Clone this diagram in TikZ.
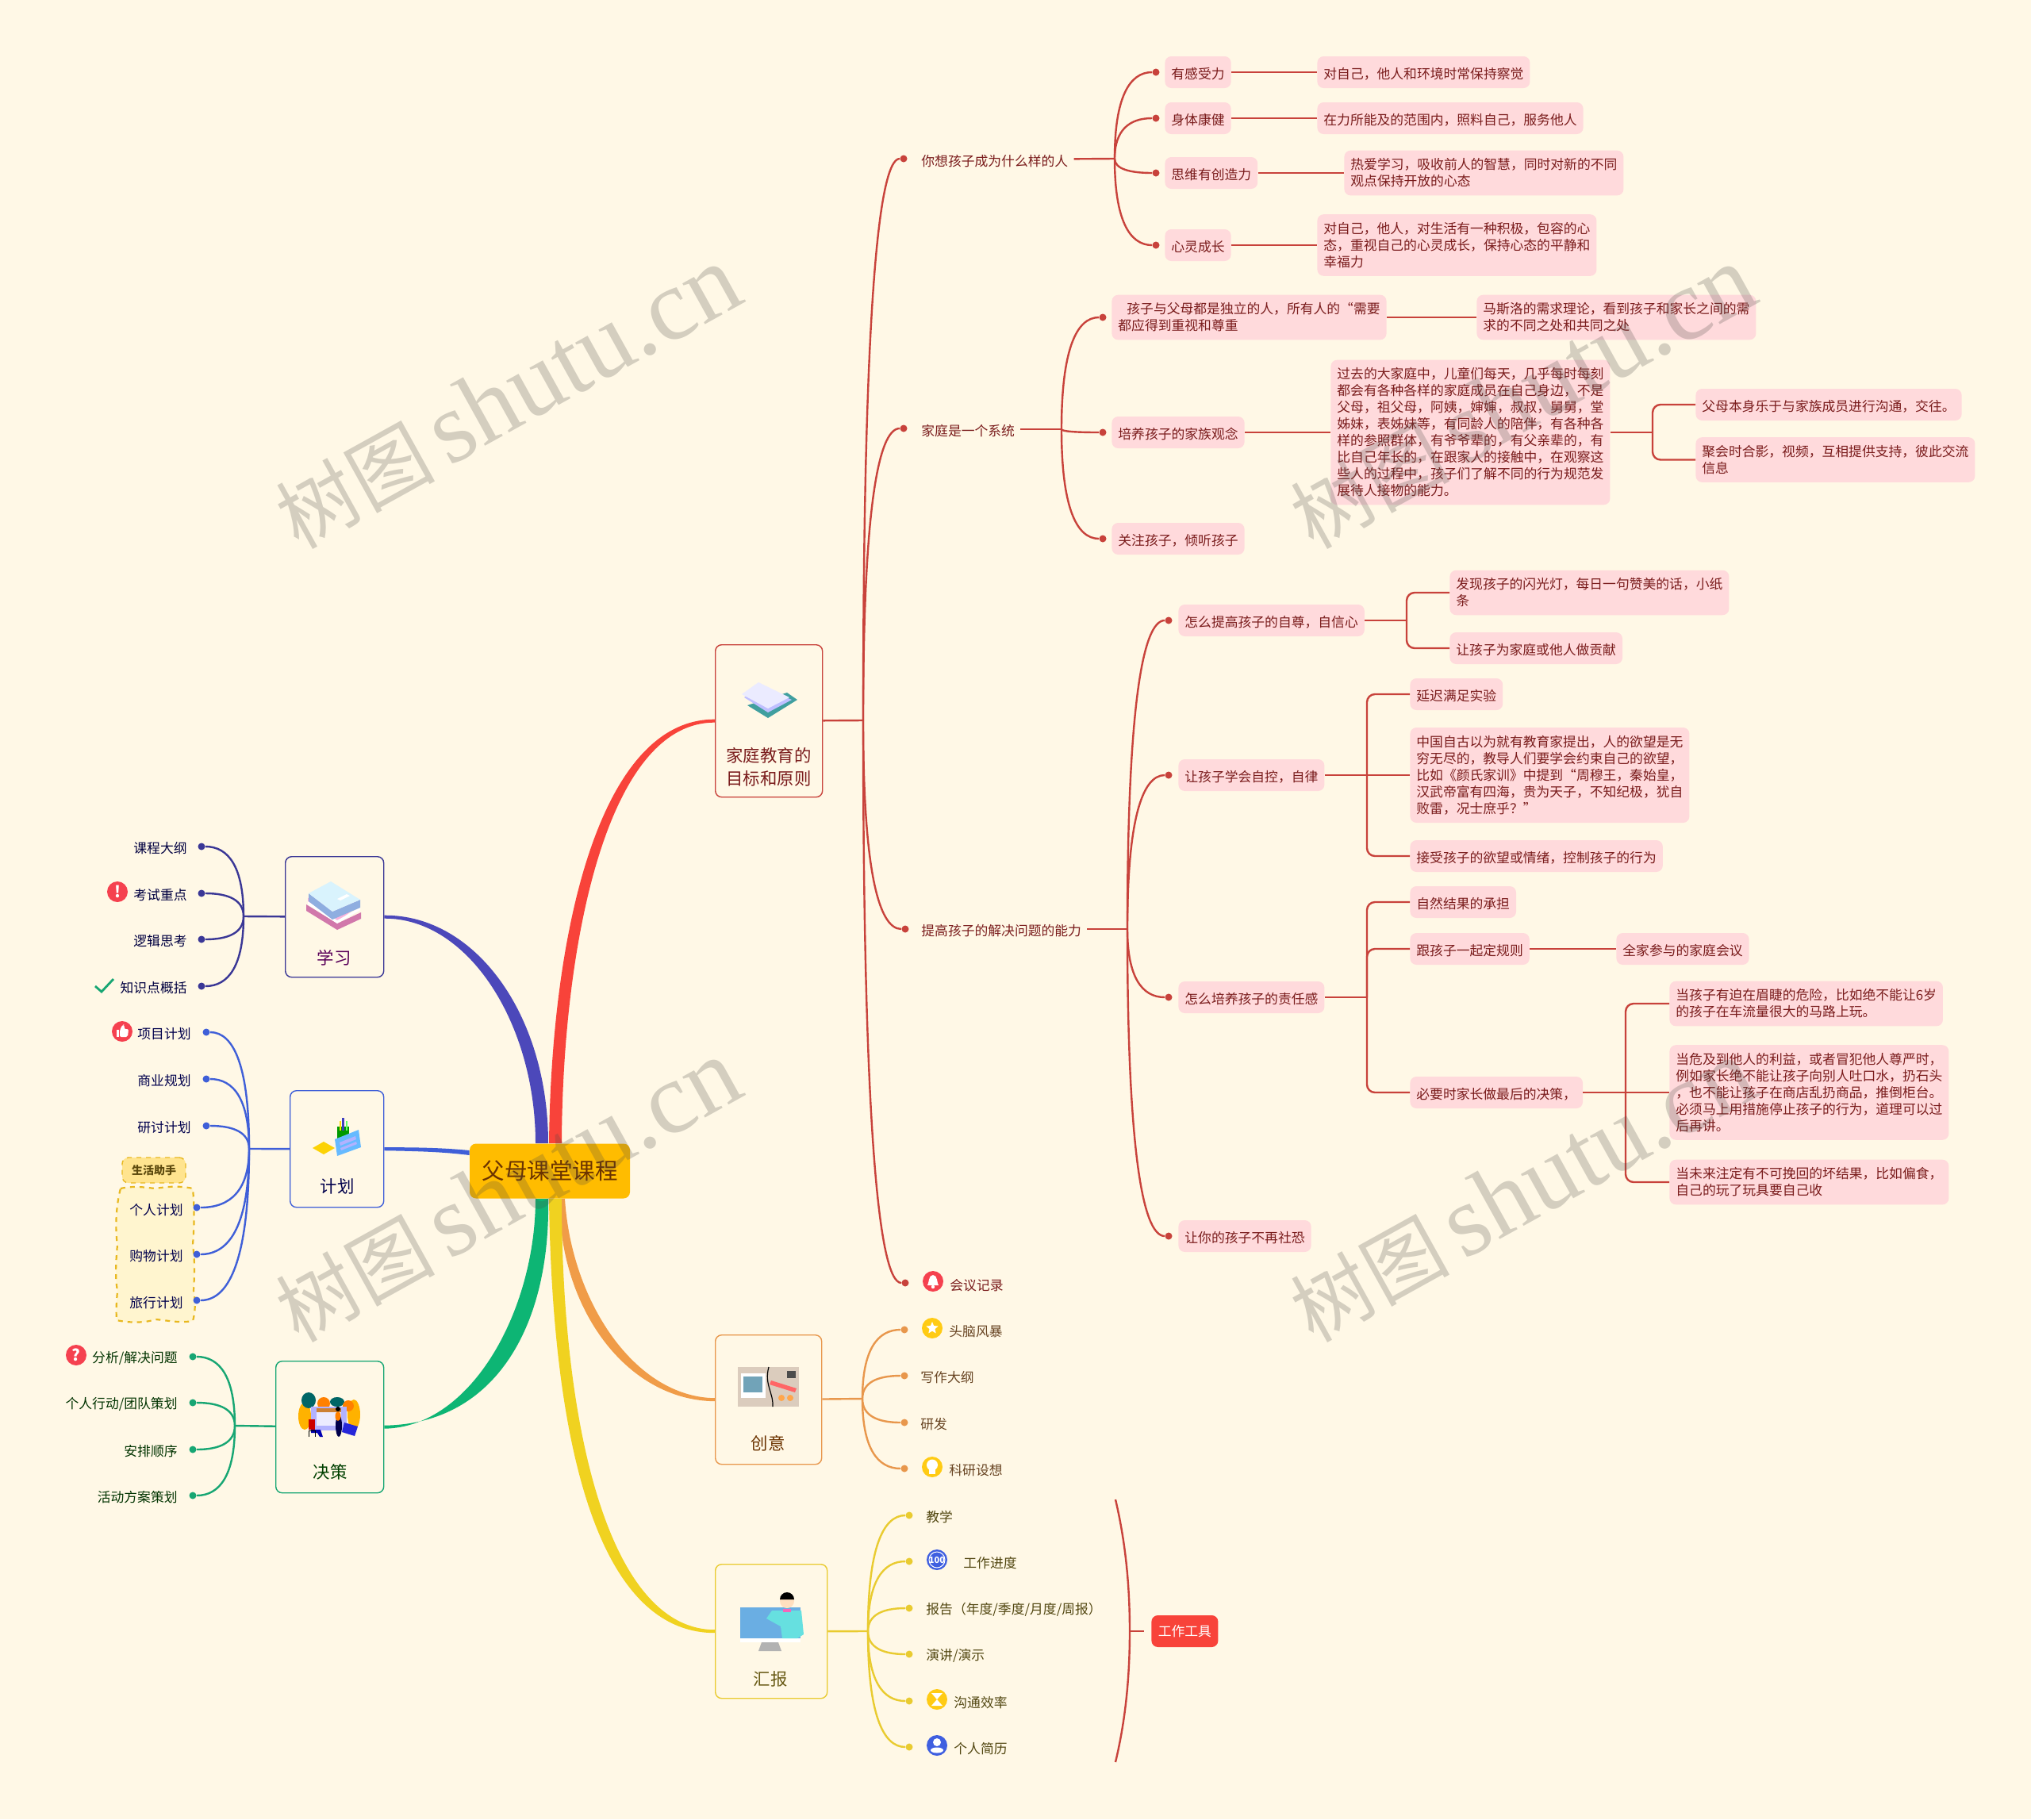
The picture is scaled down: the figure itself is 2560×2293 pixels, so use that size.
\documentclass[tikz,border=0pt]{standalone}
\usepackage{fontspec}
\setmainfont{Noto Sans CJK SC}
\newfontfamily\markserif{Liberation Serif}
\usetikzlibrary{calc}
\usetikzlibrary{backgrounds}
\usetikzlibrary{shapes.geometric}
\definecolor{creamback}{HTML}{FFF8E6}
\definecolor{armred}{HTML}{F8433A}
\definecolor{armpurple}{HTML}{4C48BA}
\definecolor{armblue}{HTML}{3F5FD8}
\definecolor{armgreen}{HTML}{0DB574}
\definecolor{armorange}{HTML}{F09C48}
\definecolor{armyellow}{HTML}{F0D220}
\definecolor{lineRed}{HTML}{C8423B}
\definecolor{lineOrange}{HTML}{E8974C}
\definecolor{lineYellow}{HTML}{E9CB30}
\definecolor{linePurple}{HTML}{3A3796}
\definecolor{lineGreen}{HTML}{17A673}
\definecolor{pinkfill}{HTML}{FFDADC}
\definecolor{pinktext}{HTML}{7A1C1C}
\definecolor{rootfill}{HTML}{FFBC00}
\definecolor{roottext}{HTML}{6B3300}
\definecolor{tagfill}{HTML}{FFE48F}
\definecolor{groupfill}{HTML}{FFF5CF}
\definecolor{groupline}{HTML}{E8B820}
\definecolor{iconred}{HTML}{F5414F}
\definecolor{icongold}{HTML}{FFCB14}
\definecolor{iconblue}{HTML}{3F5FE0}
\newcommand{\leaffont}{\fontsize{8.4}{10.5}\selectfont}
\newcommand{\leafstrut}{\rule{0pt}{9pt}}
\tikzset{
  pinkbox/.style={fill=pinkfill, text=pinktext, rounded corners=4pt, inner xsep=4pt, inner ysep=5pt, minimum height=20pt, anchor=west, align=left, font=\leaffont, execute at begin node=\leafstrut},
  twigtext/.style={text=#1, inner xsep=3.5pt, inner ysep=2pt, font=\leaffont, execute at begin node=\leafstrut},
  armbox/.style={draw=#1, rounded corners=4pt, line width=0.7pt, anchor=north west, inner sep=0pt},
  armtext/.style={text=#1, font=\fontsize{10.7}{14.3}\selectfont, align=center},
  twigdot/.style={circle, fill=#1, inner sep=0pt, minimum size=4.5pt},
  iconball/.style={circle, fill=#1, text=white, inner sep=0pt, minimum size=13pt},
  twiglines/.style={draw=#1, line width=1.2pt},
  twig/.style={to path={.. controls ($(\tikztostart)!0.7!(\tikztostart|-\tikztotarget)$) and ($(\tikztostart|-\tikztotarget)!0.35!(\tikztotarget)$) .. (\tikztotarget)}},
  elbow/.style={rounded corners=5pt, to path={|- (\tikztotarget)}},
  markstyle/.style={text=black!70!creamback, opacity=0.24, rotate=29, font=\fontsize{50}{60}\selectfont}
}
\begin{document}
\begin{tikzpicture}[x=0.5pt, y=-0.5pt]
  \useasboundingbox (0,0) rectangle (2560,2293);

  \node[fill=rootfill, text=roottext, rounded corners=4pt, minimum width=101pt, minimum height=34.5pt, inner sep=0pt, font=\fontsize{14.25}{16}\selectfont] (c0) at (693,1476) {父母课堂课程};

  \node[armbox=lineRed, minimum width=67.5pt, minimum height=96pt] (t0) at (901,812) {};
  \node[armtext=pinktext] (t0l) at (969,967) {家庭教育的\\目标和原则};
  \node[armbox=lineOrange, minimum width=67pt, minimum height=81.5pt] (t4) at (901,1682) {};
  \node[armtext=roottext] (t4l) at (968,1819) {创意};
  \node[armbox=lineYellow, minimum width=70.5pt, minimum height=84.5pt] (t5) at (901,1971) {};
  \node[armtext=black!55!lineYellow] (t5l) at (971,2116) {汇报};
  \node[armbox=linePurple, minimum width=62pt, minimum height=76pt] (t6) at (359,1079) {};
  \node[armtext=violet!70!black] (t6l) at (421,1207) {学习};
  \node[armbox=armblue, minimum width=59pt, minimum height=73.5pt] (t7) at (365,1374) {};
  \node[armtext=blue!30!black] (t7l) at (425,1495) {计划};
  \node[armbox=lineGreen, minimum width=68pt, minimum height=83pt] (t8) at (347,1715) {};
  \node[armtext=green!25!black] (t8l) at (416,1855) {决策};

  \begin{pgfonlayer}{background}
    \fill[creamback] (0,0) rectangle (2560,2293);
    \fill[armorange] ($(c0.south)+(19,0)$) .. controls (720,1640) and (800,1761) .. ($(t4.west)+(0,-2)$) -- ($(t4.west)+(0,2)$) .. controls (790,1765) and (705,1650) .. ($(c0.south)+(12,0)$) -- cycle;
    \fill[armyellow] ($(c0.south)+(-1,0)$) .. controls (696,1810) and (750,2058) .. ($(t5.west)+(0,2)$) -- ($(t5.west)+(0,-2)$) .. controls (768,2054) and (708,1800) .. ($(c0.south)+(15,0)$) -- cycle;
    \fill[armgreen] ($(c0.south)+(-2,0)$) .. controls (694,1670) and (625,1795) .. ($(t8.east)+(0,-2)$) -- ($(t8.east)+(0,2)$) .. controls (595,1799) and (675,1650) .. ($(c0.south)+(-18,0)$) -- cycle;
    \fill[armpurple] ($(c0.north)+(-2,0)$) .. controls (691,1280) and (600,1153) .. ($(t6.east)+(0,-2)$) -- ($(t6.east)+(0,2)$) .. controls (590,1157) and (675,1290) .. ($(c0.north)+(-18,0)$) -- cycle;
    \fill[armred] ($(c0.north)+(-1,0)$) .. controls (695,1170) and (757,906) .. ($(t0.west)+(0,-2)$) -- ($(t0.west)+(0,2)$) .. controls (765,910) and (709,1190) .. ($(c0.north)+(15,0)$) -- cycle;
    \fill[armblue] ($(t7.east)+(0,-2)$) .. controls (530,1446) and (560,1447) .. ($(c0.west)+(0,-26)$) -- ($(c0.west)+(0,-20)$) .. controls (560,1452) and (530,1451) .. ($(t7.east)+(0,2)$) -- cycle;
  \end{pgfonlayer}

  \coordinate (h0) at (1088,908); \coordinate (h1) at (1405,200); \coordinate (h2) at (1338,541); \coordinate (h3) at (1421,1171);
  \coordinate (h21) at (2083,545); \coordinate (h31) at (1773,782); \coordinate (h32) at (1723,977); \coordinate (h33) at (1723,1257); \coordinate (h331) at (2049,1377);
  \coordinate (h4) at (1087,1763); \coordinate (h5) at (1094,2056); \coordinate (h6) at (307,1155); \coordinate (h7) at (314,1448); \coordinate (h8) at (296,1797);
  \coordinate (h9) at (1424,2056); \coordinate (h9a) at (1406,1890); \coordinate (h9b) at (1406,2221); \coordinate (h9c) at (1442,2056);

  \node[twigtext=pinktext, anchor=west] (t1) at (1154,201) {你想孩子成为什么样的人}; \node[twigdot=lineRed] (d1) at (1139,200) {};
  \node[twigtext=pinktext, anchor=west] (t2) at (1154,541) {家庭是一个系统}; \node[twigdot=lineRed] (d2) at (1139,540) {};
  \node[twigtext=pinktext, anchor=west] (t3) at (1154,1171) {提高孩子的解决问题的能力}; \node[twigdot=lineRed] (d3) at (1141,1171) {};
  \node[twigtext=pinktext, anchor=west] (t10) at (1190,1618) {会议记录}; \node[twigdot=lineRed] (d10) at (1141,1617) {};

  \node[pinkbox] (t11) at (1468,91) {有感受力}; \node[pinkbox] (t111) at (1660,91) {对自己，他人和环境时常保持察觉}; \node[twigdot=lineRed] (d11) at (1457,91) {};
  \node[pinkbox] (t12) at (1468,149) {身体康健}; \node[pinkbox] (t121) at (1660,149) {在力所能及的范围内，照料自己，服务他人}; \node[twigdot=lineRed] (d12) at (1457,149) {};
  \node[pinkbox] (t13) at (1468,218) {思维有创造力}; \node[pinkbox] (t131) at (1694,218) {热爱学习，吸收前人的智慧，同时对新的不同\\观点保持开放的心态}; \node[twigdot=lineRed] (d13) at (1457,218) {};
  \node[pinkbox] (t14) at (1468,309) {心灵成长}; \node[pinkbox] (t141) at (1660,309) {对自己，他人，对生活有一种积极，包容的心\\态，重视自己的心灵成长，保持心态的平静和\\幸福力}; \node[twigdot=lineRed] (d14) at (1457,309) {};

  \node[pinkbox] (t21) at (1401,400) {\hspace*{5.5pt}孩子与父母都是独立的人，所有人的“需要\\都应得到重视和尊重}; \node[pinkbox] (t211) at (1861,400) {马斯洛的需求理论，看到孩子和家长之间的需\\求的不同之处和共同之处}; \node[twigdot=lineRed] (d21) at (1390,400) {};
  \node[pinkbox] (t22) at (1401,545) {培养孩子的家族观念}; \node[twigdot=lineRed] (d22) at (1390,545) {};
  \node[pinkbox] (t221) at (1677,545) {过去的大家庭中，儿童们每天，几乎每时每刻\\都会有各种各样的家庭成员在自己身边，不是\\父母，祖父母，阿姨，婶婶，叔叔，舅舅，堂\\姊妹，表姊妹等，有同龄人的陪伴，有各种各\\样的参照群体，有爷爷辈的，有父亲辈的，有\\比自己年长的，在跟家人的接触中，在观察这\\些人的过程中，孩子们了解不同的行为规范发\\展待人接物的能力。};
  \node[pinkbox] (t2211) at (2137,510) {父母本身乐于与家族成员进行沟通，交往。}; \node[pinkbox] (t2212) at (2137,579.5) {聚会时合影，视频，互相提供支持，彼此交流\\信息};
  \node[pinkbox] (t23) at (1401,679) {关注孩子，倾听孩子}; \node[twigdot=lineRed] (d23) at (1390,679) {};

  \node[pinkbox] (t31) at (1485,782) {怎么提高孩子的自尊，自信心}; \node[twigdot=lineRed] (d31) at (1473,782) {};
  \node[pinkbox] (t311) at (1827,747) {发现孩子的闪光灯，每日一句赞美的话，小纸\\条}; \node[pinkbox] (t312) at (1827,817) {让孩子为家庭或他人做贡献};
  \node[pinkbox] (t32) at (1485,977) {让孩子学会自控，自律}; \node[twigdot=lineRed] (d32) at (1473,977) {};
  \node[pinkbox] (t321) at (1777,875) {延迟满足实验}; \node[pinkbox] (t322) at (1777,977) {中国自古以为就有教育家提出，人的欲望是无\\穷无尽的，教导人们要学会约束自己的欲望，\\比如《颜氏家训》中提到“周穆王，秦始皇，\\汉武帝富有四海，贵为天子，不知纪极，犹自\\败雷，况士庶乎？”}; \node[pinkbox] (t323) at (1777,1079) {接受孩子的欲望或情绪，控制孩子的行为};
  \node[pinkbox] (t33) at (1485,1257) {怎么培养孩子的责任感}; \node[twigdot=lineRed] (d33) at (1473,1257) {};
  \node[pinkbox] (t331) at (1777,1137) {自然结果的承担}; \node[pinkbox] (t332) at (1777,1196) {跟孩子一起定规则}; \node[pinkbox] (t3321) at (2037,1196) {全家参与的家庭会议};
  \node[pinkbox] (t333) at (1777,1377) {必要时家长做最后的决策，};
  \node[pinkbox] (t3331) at (2104,1265) {当孩子有迫在眉睫的危险，比如绝不能让6岁\\的孩子在车流量很大的马路上玩。}; \node[pinkbox] (t3332) at (2104,1377) {当危及到他人的利益，或者冒犯他人尊严时，\\例如家长绝不能让孩子向别人吐口水，扔石头\\，也不能让孩子在商店乱扔商品，推倒柜台。\\必须马上用措施停止孩子的行为，道理可以过\\后再讲。}; \node[pinkbox] (t3333) at (2104,1490) {当未来注定有不可挽回的坏结果，比如偏食，\\自己的玩了玩具要自己收};
  \node[pinkbox] (t34) at (1485,1558) {让你的孩子不再社恐}; \node[twigdot=lineRed] (d34) at (1473,1558) {};

  \path [twiglines=lineRed]
  (t0) edge (h0)
  (h0) edge [twig] (d1) (h0) edge [twig] (d2) (h0) edge [twig] (d3) (h0) edge [twig] (d10)
  (t1) edge (h1) (h1) edge [twig] (d11) (h1) edge [twig] (d12) (h1) edge [twig] (d13) (h1) edge [twig] (d14)
  (t11) edge (t111) (t12) edge (t121) (t13) edge (t131) (t14) edge (t141)
  (t2) edge (h2) (h2) edge [twig] (d21) (h2) edge [twig] (d22) (h2) edge [twig] (d23)
  (t21) edge (t211) (t22) edge (t221)
  (t221) edge (h21) (h21) edge [elbow] (t2211) (h21) edge [elbow] (t2212)
  (t3) edge (h3) (h3) edge [twig] (d31) (h3) edge [twig] (d32) (h3) edge [twig] (d33) (h3) edge [twig] (d34)
  (t31) edge (h31) (h31) edge [elbow] (t311) (h31) edge [elbow] (t312)
  (t32) edge (t322) (h32) edge [elbow] (t321) (h32) edge [elbow] (t323)
  (t33) edge (h33) (h33) edge [elbow] (t331) (h33) edge [elbow] (t332) (h33) edge [elbow] (t333)
  (t332) edge (t3321)
  (t333) edge (t3332) (h331) edge [elbow] (t3331) (h331) edge [elbow] (t3333);

  \node[iconball=iconred] (i10) at (1176,1615) {};
  \fill[white] (1169,1620) .. controls (1171,1618) and (1170,1607) .. (1176,1607) .. controls (1182,1607) and (1181,1618) .. (1183,1620) -- cycle;
  \fill[white] (1176,1622) circle (2.2);

  \node[twigdot=lineOrange] (d41) at (1140,1676) {}; \node[twigdot=lineOrange] (d42) at (1140,1734) {}; \node[twigdot=lineOrange] (d43) at (1140,1793) {}; \node[twigdot=lineOrange] (d44) at (1140,1851) {};
  \node[twigtext=black!55!lineOrange, anchor=west] (t41) at (1189,1676) {头脑风暴}; \node[twigtext=black!55!lineOrange, anchor=west] (t42) at (1153,1734) {写作大纲};
  \node[twigtext=black!55!lineOrange, anchor=west] (t43) at (1153,1793) {研发}; \node[twigtext=black!55!lineOrange, anchor=west] (t44) at (1189,1851) {科研设想};
  \node[iconball=icongold] (i41) at (1175,1674) {}; \node[star, star points=5, star point ratio=2.2, fill=white, inner sep=0pt, minimum size=8pt] (i41s) at (1175,1674) {};
  \node[iconball=icongold] (i44) at (1175,1849) {}; \fill[white] (1175,1846.5) circle (7); \fill[white] (1171,1851) rectangle (1179,1858);
  \path [twiglines=lineOrange] (t4) edge (h4) (h4) edge [twig] (d41) (h4) edge [twig] (d42) (h4) edge [twig] (d43) (h4) edge [twig] (d44);

  \node[twigdot=lineYellow] (d51) at (1146,1910) {}; \node[twigdot=lineYellow] (d52) at (1146,1968) {}; \node[twigdot=lineYellow] (d53) at (1146,2027) {}; \node[twigdot=lineYellow] (d54) at (1146,2085) {}; \node[twigdot=lineYellow] (d55) at (1146,2144) {}; \node[twigdot=lineYellow] (d56) at (1146,2202) {};
  \node[twigtext=black!65!lineYellow, anchor=west] (t51) at (1160,1910) {教学}; \node[twigtext=black!65!lineYellow, anchor=west] (t52) at (1207,1968) {工作进度}; \node[twigtext=black!65!lineYellow, anchor=west] (t53) at (1160,2027) {报告（年度/季度/月度/周报）};
  \node[twigtext=black!65!lineYellow, anchor=west] (t54) at (1160,2085) {演讲/演示}; \node[twigtext=black!65!lineYellow, anchor=west] (t55) at (1195,2144) {沟通效率}; \node[twigtext=black!65!lineYellow, anchor=west] (t56) at (1195,2202) {个人简历};
  \node[iconball=iconblue, font=\fontsize{5.5}{6}\selectfont\bfseries] (i52) at (1181,1966) {100}; \draw[white, line width=0.5pt] (1181,1966) circle (10);
  \node[iconball=icongold] (i55) at (1181,2142) {}; \fill[white] (1174,2134) -- (1188,2134) -- (1181,2142) -- (1188,2150) -- (1174,2150) -- (1181,2142) -- cycle;
  \node[iconball=iconblue] (i56) at (1181,2200) {}; \fill[white] (1181,2196) circle (5); \fill[white] (1181,2206) ellipse [x radius=8, y radius=3.5];
  \path [twiglines=lineYellow] (t5) edge (h5) (h5) edge [twig] (d51) (h5) edge [twig] (d52) (h5) edge [twig] (d53) (h5) edge [twig] (d54) (h5) edge [twig] (d55) (h5) edge [twig] (d56);

  \node[fill=armred, text=white, rounded corners=4pt, minimum width=42pt, minimum height=20pt, inner sep=0pt, anchor=west, font=\leaffont] (t9) at (1451,2056) {工作工具};
  \draw[twiglines=lineRed] (h9a) .. controls (1419,1945) and (1424,2000) .. (h9) .. controls (1424,2112) and (1419,2167) .. (h9b);
  \path [twiglines=lineRed] (h9) edge (h9c);

  \node[twigdot=linePurple] (d61) at (254,1067) {}; \node[twigdot=linePurple] (d62) at (254,1126) {}; \node[twigdot=linePurple] (d63) at (254,1184) {}; \node[twigdot=linePurple] (d64) at (254,1243) {};
  \node[twigtext=blue!25!black, anchor=east] (t61) at (243,1067) {课程大纲}; \node[twigtext=blue!25!black, anchor=east] (t62) at (243,1126) {考试重点}; \node[twigtext=blue!25!black, anchor=east] (t63) at (243,1184) {逻辑思考}; \node[twigtext=blue!25!black, anchor=east] (t64) at (243,1243) {知识点概括};
  \node[iconball=iconred, font=\fontsize{10}{10}\selectfont\bfseries] (i62) at (148,1124) {!};
  \draw[lineGreen, line width=1.4pt] (120,1243) -- (128,1250) -- (143,1234);
  \path [twiglines=linePurple] (t6) edge (h6) (h6) edge [twig] (d61) (h6) edge [twig] (d62) (h6) edge [twig] (d63) (h6) edge [twig] (d64);

  \draw[groupline, fill=groupfill, dashed, line width=1.1pt] (152,1498) .. controls (170,1494) and (185,1497) .. (196,1498) .. controls (208,1496) and (225,1494) .. (243,1498) .. controls (246,1530) and (244,1555) .. (243,1569) .. controls (246,1590) and (245,1610) .. (244,1627) .. controls (247,1640) and (246,1655) .. (243,1665) .. controls (225,1668) and (210,1664) .. (196,1663) .. controls (185,1667) and (165,1668) .. (147,1664) .. controls (146,1650) and (147,1640) .. (148,1627) .. controls (145,1610) and (146,1590) .. (148,1569) .. controls (145,1550) and (146,1520) .. (152,1498) -- cycle;
  \node[draw=groupline, fill=tagfill, dashed, text=black!60!groupline, rounded corners=4pt, line width=0.7pt, minimum width=40pt, minimum height=16pt, inner sep=0pt, font=\fontsize{7}{8}\selectfont\bfseries] (g0) at (194,1475) {生活助手};
  \node[twigdot=armblue] (d71) at (260,1301) {}; \node[twigdot=armblue] (d72) at (260,1360) {}; \node[twigdot=armblue] (d73) at (260,1419) {}; \node[twigdot=armblue] (d74) at (248,1522) {}; \node[twigdot=armblue] (d75) at (248,1581) {}; \node[twigdot=armblue] (d76) at (248,1639) {};
  \node[twigtext=blue!30!black, anchor=east] (t71) at (248,1301) {项目计划}; \node[twigtext=blue!30!black, anchor=east] (t72) at (248,1360) {商业规划}; \node[twigtext=blue!30!black, anchor=east] (t73) at (248,1419) {研讨计划};
  \node[twigtext=blue!30!black] (t74) at (197,1523) {个人计划}; \node[twigtext=blue!30!black] (t75) at (197,1581) {购物计划}; \node[twigtext=blue!30!black] (t76) at (197,1640) {旅行计划};
  \node[iconball=iconred] (i71) at (154,1300) {}; \fill[white] (147,1298) rectangle (150,1307); \fill[white, rounded corners=1pt] (151,1298) -- (155,1291) -- (157,1292) -- (156.5,1297) -- (162,1297) -- (161,1307) -- (151,1307) -- cycle;
  \path [twiglines=armblue] (t7) edge (h7) (h7) edge [twig] (d71) (h7) edge [twig] (d72) (h7) edge [twig] (d73) (h7) edge [twig] (d74) (h7) edge [twig] (d75) (h7) edge [twig] (d76);

  \node[twigdot=lineGreen] (d81) at (243,1710) {}; \node[twigdot=lineGreen] (d82) at (243,1768) {}; \node[twigdot=lineGreen] (d83) at (243,1827) {}; \node[twigdot=lineGreen] (d84) at (243,1885) {};
  \node[twigtext=green!20!black, anchor=east] (t81) at (231,1710) {分析/解决问题}; \node[twigtext=green!20!black, anchor=east] (t82) at (231,1768) {个人行动/团队策划}; \node[twigtext=green!20!black, anchor=east] (t83) at (231,1827) {安排顺序}; \node[twigtext=green!20!black, anchor=east] (t84) at (231,1885) {活动方案策划};
  \node[iconball=iconred, font=\fontsize{10}{10}\selectfont\bfseries] (i81) at (96,1708) {?};
  \path [twiglines=lineGreen] (t8) edge (h8) (h8) edge [twig] (d81) (h8) edge [twig] (d82) (h8) edge [twig] (d83) (h8) edge [twig] (d84);

  \fill[teal!75!white] (942,889) -- (992,873) -- (1005,882) -- (968,905) -- cycle;
  \fill[blue!25!white] (938,879) -- (956,864) -- (998,882) -- (968,898) -- cycle;
  \fill[blue!8!white] (935,875) -- (956,860) -- (995,879) -- (968,893) -- cycle;

  \fill[magenta!55!gray!80!white] (386,1140) -- (425,1164) -- (455,1150) -- (455,1158) -- (425,1172) -- (386,1148) -- cycle;
  \fill[magenta!30!white] (388,1132) -- (420,1125) -- (454,1140) -- (425,1162) -- (388,1138) -- cycle;
  \fill[white] (388,1136) -- (425,1160) -- (454,1144) -- (454,1147) -- (425,1164) -- (388,1140) -- cycle;
  \fill[cyan!50!blue!45!white] (389,1126) -- (419,1149) -- (454,1134) -- (454,1144) -- (419,1159) -- (389,1136) -- cycle;
  \fill[cyan!15!white] (389,1126) -- (417,1111) -- (454,1134) -- (419,1149) -- cycle;
  \fill[white] (425,1133) -- (437,1127) -- (441,1129) -- (429,1135) -- cycle;

  \fill[yellow!70!orange] (394,1447) -- (408,1439) -- (422,1447) -- (408,1455) -- cycle;
  \fill[green!60!black] (425,1420) rectangle (440,1436);
  \fill[yellow!80!orange] (428,1413) rectangle (430,1425);
  \fill[blue!50!gray] (431,1409) rectangle (434,1425);
  \fill[green!60!white] (436,1413) rectangle (438,1425);
  \fill[blue!45!cyan!60!white] (422,1436) -- (452,1424) -- (455,1446) -- (425,1457) -- cycle;
  \fill[white!70!blue] (428,1440) -- (448,1432) -- (449,1436) -- (429,1444) -- cycle;
  \fill[white!70!blue] (429,1447) -- (449,1439) -- (450,1442) -- (430,1450) -- cycle;

  \fill[orange!30!gray!40!white] (930,1723) rectangle (1007,1773);
  \fill[white] (934,1731) rectangle (965,1762);
  \fill[cyan!40!gray] (937,1735) rectangle (961,1755);
  \fill[black!70] (992,1728) rectangle (1003,1737);
  \fill[red!60!white] (972,1740) -- (1004,1750) -- (1002,1755) -- (970,1745) -- cycle;
  \fill[orange!70!white] (985,1762) circle (4); \fill[orange!70!white] (996,1762) circle (4);
  \draw[black, line width=0.6pt] (969,1723) .. controls (963,1745) and (975,1755) .. (974,1773);

  \fill[cyan!70!blue!60!white] (933,2026) rectangle (1009,2065);
  \fill[white] (933,2065) rectangle (1009,2070);
  \fill[black!30] (960,2070) -- (981,2070) -- (985,2081) -- (956,2081) -- cycle;
  \fill[teal!40!cyan!60!white] (973,2030) -- (1010,2030) -- (1013,2060) -- (1005,2065) -- (986,2065) -- (984,2050) -- (966,2040) -- cycle;
  \fill[orange!25!white] (992,2018) circle (9);
  \fill[black] (983,2016) arc (180:360:9) -- cycle;
  \fill[magenta!60!white] (987,2028) rectangle (997,2032);

  \fill[orange!60!yellow] (384,1785) ellipse [x radius=8, y radius=17];
  \fill[orange!60!yellow] (446,1783) ellipse [x radius=8, y radius=19];
  \fill[teal!80!black] (389,1765) ellipse [x radius=9, y radius=10];
  \fill[teal!80!black] (425,1767) ellipse [x radius=9, y radius=6];
  \fill[orange] (408,1769) circle (8); \fill[orange] (439,1772) circle (7);
  \fill[blue!30!white] (392,1773) rectangle (437,1803);
  \fill[blue!8!white] (399,1780) rectangle (430,1797);
  \fill[orange!60!gray] (399,1775) rectangle (430,1780);
  \fill[black!70!blue] (427,1797) ellipse [x radius=4, y radius=14];
  \fill[orange] (426,1785) ellipse [x radius=3.5, y radius=6];
  \fill[black] (426,1776) circle (3);
  \fill[red!80!black] (389,1789) rectangle (397,1802);
  \fill[blue!70!black] (392,1802) -- (404,1802) -- (407,1811) -- (403,1811) -- (400,1806) -- (392,1806) -- cycle;
  \draw[black, line width=0.5pt] (389,1811) -- (389,1803) -- (397,1803) -- (397,1811);
  \fill[blue!70!gray] (434,1793) -- (451,1798) -- (447,1810) -- (431,1805) -- cycle;

  \node[markstyle] (w1) at (640,501) {树图\,{\fontsize{64}{64}\selectfont\markserif shutu.cn}};
  \node[markstyle] (w2) at (1919,501) {树图\,{\fontsize{64}{64}\selectfont\markserif shutu.cn}};
  \node[markstyle] (w3) at (640,1501) {树图\,{\fontsize{64}{64}\selectfont\markserif shutu.cn}};
  \node[markstyle] (w4) at (1919,1501) {树图\,{\fontsize{64}{64}\selectfont\markserif shutu.cn}};
\end{tikzpicture}
\end{document}
